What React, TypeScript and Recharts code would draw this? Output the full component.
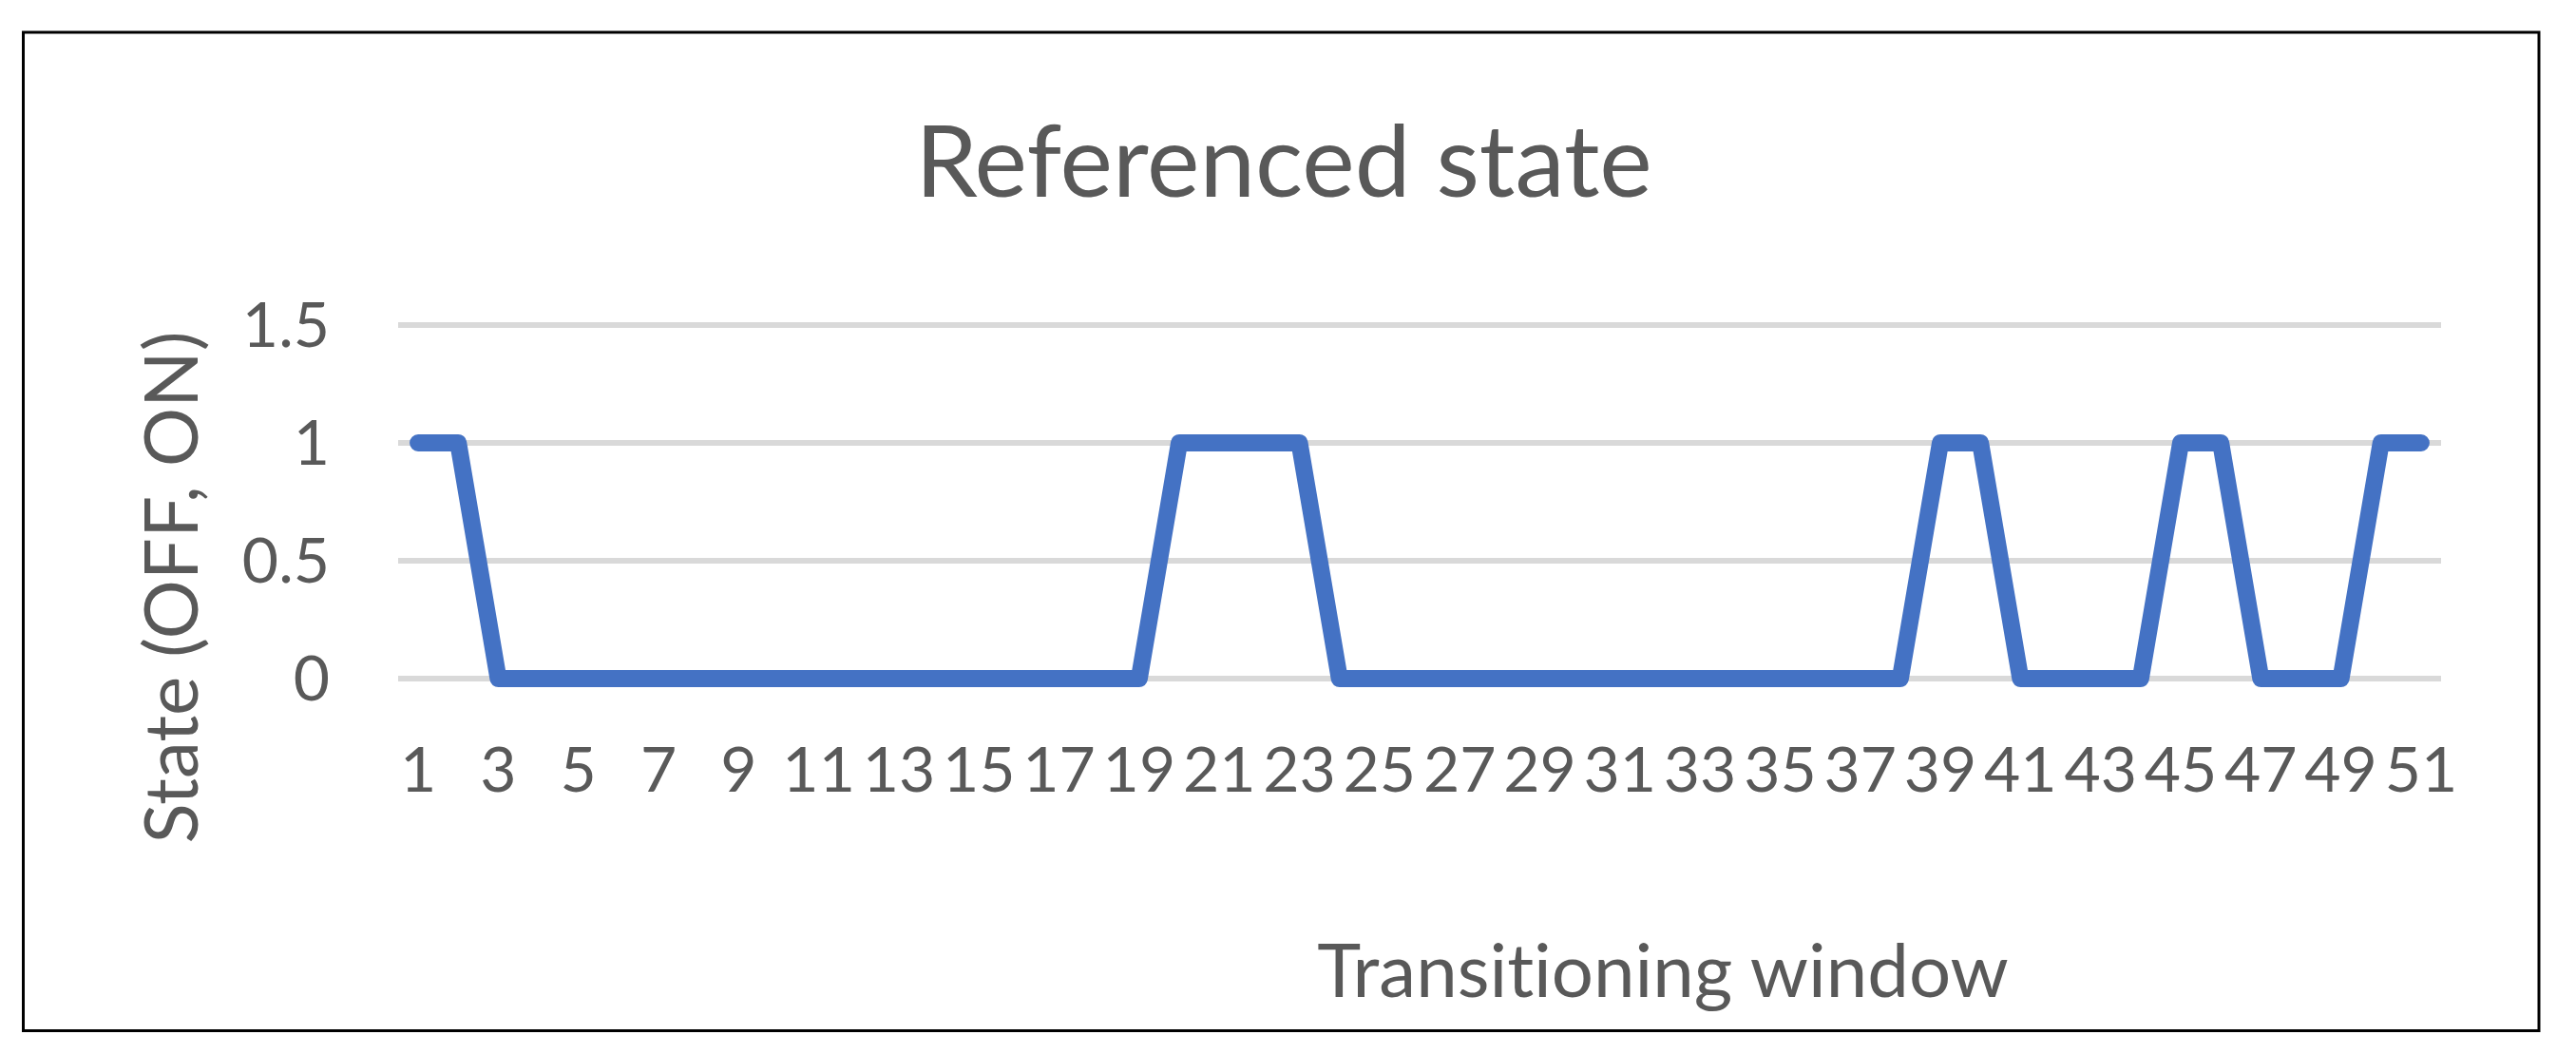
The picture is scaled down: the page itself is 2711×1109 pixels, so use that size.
import { LineChart, Line, XAxis, YAxis, CartesianGrid } from 'recharts';

// transitioning windows 1..51 and the referenced state (0 = OFF, 1 = ON)
const windows = [
  1, 2, 3, 4, 5, 6, 7, 8, 9, 10, 11, 12, 13, 14, 15, 16, 17, 18, 19, 20, 21, 22, 23, 24, 25, 26,
  27, 28, 29, 30, 31, 32, 33, 34, 35, 36, 37, 38, 39, 40, 41, 42, 43, 44, 45, 46, 47, 48, 49, 50, 51,
];
const states = [
  1, 1,
  0, 0, 0, 0, 0, 0, 0, 0, 0, 0, 0, 0, 0, 0, 0, 0, 0,
  1, 1, 1, 1,
  0, 0, 0, 0, 0, 0, 0, 0, 0, 0, 0, 0, 0, 0, 0,
  1, 1,
  0, 0, 0, 0,
  1, 1,
  0, 0, 0,
  1, 1,
];
const xTicks = [1, 3, 5, 7, 9, 11, 13, 15, 17, 19, 21, 23, 25, 27, 29, 31, 33, 35, 37, 39, 41, 43, 45, 47, 49, 51];
const yTicks = [0, 0.5, 1, 1.5];

const data = windows.map((w, i) => ({ window: w, state: states[i] }));

const W = 2711;
const H = 1109;
const textColor = '#595959';
const font = 'Lato, "Open Sans", sans-serif';
const noLig = { fontVariantLigatures: 'none' as const };

export default function App() {
  return (
    <div style={{ position: 'absolute', left: 0, top: 0, width: W, height: H, background: '#fff' }}>
      <LineChart
        width={W}
        height={H}
        data={data}
        margin={{ top: 342, right: 142, bottom: 295, left: 319 }}
      >
        <CartesianGrid vertical={false} stroke="#d9d9d9" strokeWidth={6} />
        <XAxis
          dataKey="window"
          type="number"
          domain={[0.5, 51.5]}
          ticks={xTicks}
          interval={0}
          height={100}
          axisLine={false}
          tickLine={false}
          tickSize={0}
          tickMargin={72}
          tick={{ fill: textColor, fontSize: 66, fontFamily: font }}
        />
        <YAxis
          domain={[0, 1.5]}
          ticks={yTicks}
          interval={0}
          width={100}
          axisLine={false}
          tickLine={false}
          tickSize={0}
          tickMargin={72}
          tick={{ fill: textColor, fontSize: 66, fontFamily: font }}
        />
        <Line
          type="linear"
          dataKey="state"
          stroke="#4472c4"
          strokeWidth={18}
          strokeLinecap="round"
          strokeLinejoin="round"
          dot={false}
          activeDot={false}
          isAnimationActive={false}
        />
      </LineChart>
      <svg
        width={W}
        height={H}
        style={{ position: 'absolute', left: 0, top: 0, pointerEvents: 'none' }}
      >
        <rect x={24.5} y={34} width={2647.5} height={1050.5} fill="none" stroke="#000" strokeWidth={3} />
        <text x={1351} y={207} textAnchor="middle" fill={textColor} fontSize={105} fontFamily={font} style={noLig}>
          Referenced state
        </text>
        <text x={1750} y={1049} textAnchor="middle" fill={textColor} fontSize={78} fontFamily={font} style={noLig}>
          Transitioning window
        </text>
        <text
          transform="translate(208, 618) rotate(-90)"
          textAnchor="middle"
          fill={textColor}
          fontSize={78}
          fontFamily={font}
          style={noLig}
        >
          State (OFF, ON)
        </text>
      </svg>
    </div>
  );
}
